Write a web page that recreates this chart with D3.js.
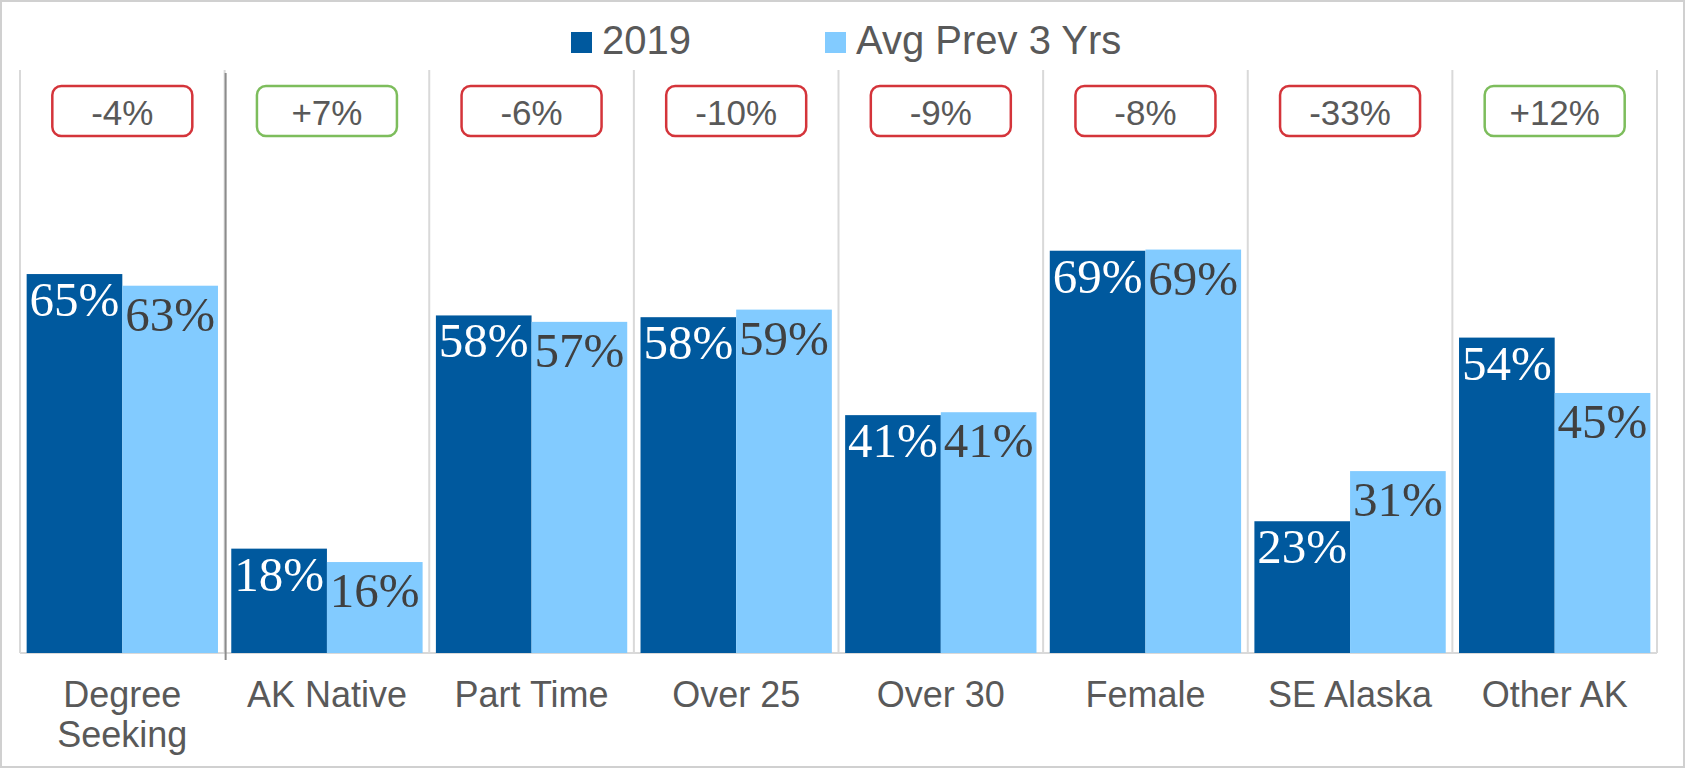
<!DOCTYPE html>
<html>
<head>
<meta charset="utf-8">
<script src="https://cdn.jsdelivr.net/npm/d3@7"></script>
<style>
  html, body { margin: 0; padding: 0; background: #ffffff; }
  svg { display: block; }
</style>
</head>
<body>
<svg id="chart" width="1685" height="768"></svg>
<script>
// ---- Data ----
const categories = ["Degree Seeking", "AK Native", "Part Time", "Over 25", "Over 30", "Female", "SE Alaska", "Other AK"];
const seriesNames = ["2019", "Avg Prev 3 Yrs"];
const values2019 = [65, 17.9, 57.9, 57.6, 40.8, 69.0, 22.6, 54.1];
const valuesAvg = [63, 15.6, 56.8, 58.9, 41.3, 69.2, 31.2, 44.6];
const changeLabels = ["-4%", "+7%", "-6%", "-10%", "-9%", "-8%", "-33%", "+12%"];

// ---- Layout ----
const W = 1685, H = 768;
const plotLeft = 20, plotRight = 1657, plotTop = 70, plotBottom = 653;
const colors = ["#00599E", "#82CBFF"];
const gridColor = "#d9d9d9";
const textGray = "#595959";
const sans = "'Liberation Sans', Arial, sans-serif";
const serif = "'Liberation Serif', 'Times New Roman', serif";

const svg = d3.select("#chart");

// outer border
svg.append("rect")
  .attr("x", 1).attr("y", 1).attr("width", W - 2).attr("height", H - 2)
  .attr("fill", "#fff").attr("stroke", "#d0d0d0").attr("stroke-width", 2);

const x0 = d3.scaleBand()
  .domain(categories)
  .range([plotLeft, plotRight])
  .paddingInner(0.065)
  .paddingOuter(0.0325);

const x1 = d3.scaleBand()
  .domain(seriesNames)
  .range([0, x0.bandwidth()]);

const y = d3.scaleLinear().domain([0, 100]).range([plotBottom, plotTop]);

const step = x0.step();

// vertical gridlines at category boundaries
const boundaries = d3.range(categories.length + 1).map(i => plotLeft + i * step);
svg.append("g").selectAll("line")
  .data(boundaries)
  .join("line")
  .attr("x1", d => d).attr("x2", d => d)
  .attr("y1", y(100)).attr("y2", plotBottom)
  .attr("stroke", gridColor).attr("stroke-width", 2);

// baseline
svg.append("line")
  .attr("x1", plotLeft).attr("x2", plotRight)
  .attr("y1", plotBottom).attr("y2", plotBottom)
  .attr("stroke", gridColor).attr("stroke-width", 2);

// darker separator line after first category
svg.append("line")
  .attr("x1", boundaries[1] + 1).attr("x2", boundaries[1] + 1)
  .attr("y1", y(100) + 3).attr("y2", plotBottom + 7)
  .attr("stroke", "#8c8c8c").attr("stroke-width", 2);

// bars
const rows = categories.map((c, i) => ({
  cat: c,
  vals: [
    { s: seriesNames[0], v: values2019[i], k: 0 },
    { s: seriesNames[1], v: valuesAvg[i], k: 1 }
  ]
}));

const groups = svg.append("g").selectAll("g")
  .data(rows)
  .join("g")
  .attr("transform", d => `translate(${x0(d.cat)},0)`);

groups.selectAll("rect")
  .data(d => d.vals)
  .join("rect")
  .attr("x", d => x1(d.s))
  .attr("width", x1.bandwidth())
  .attr("y", d => y(d.v))
  .attr("height", d => plotBottom - y(d.v))
  .attr("fill", d => colors[d.k]);

groups.selectAll("text.val")
  .data(d => d.vals)
  .join("text")
  .attr("class", "val")
  .attr("x", d => x1(d.s) + x1.bandwidth() / 2)
  .attr("y", d => y(d.v) + (d.k === 0 ? 42 : 45))
  .attr("text-anchor", "middle")
  .attr("font-family", serif)
  .attr("font-size", 49)
  .attr("fill", d => d.k === 0 ? "#ffffff" : "#404040")
  .text(d => Math.round(d.v) + "%");

// change boxes
const boxW = 140, boxH = 50, boxY = 86;
const boxes = svg.append("g").selectAll("g")
  .data(categories.map((c, i) => ({ cat: c, lab: changeLabels[i] })))
  .join("g")
  .attr("transform", d => `translate(${x0(d.cat) + x0.bandwidth() / 2},0)`);

boxes.append("rect")
  .attr("x", -boxW / 2).attr("y", boxY)
  .attr("width", boxW).attr("height", boxH)
  .attr("rx", 9).attr("ry", 9)
  .attr("fill", "#ffffff")
  .attr("stroke", d => d.lab.startsWith("+") ? "#7dbd5c" : "#d4343a")
  .attr("stroke-width", 2.5);

boxes.append("text")
  .attr("x", 0).attr("y", 125)
  .attr("text-anchor", "middle")
  .attr("font-family", sans)
  .attr("font-size", 35)
  .attr("fill", textGray)
  .text(d => d.lab);

// category labels
const catLines = {
  "Degree Seeking": ["Degree", "Seeking"]
};
const catG = svg.append("g").selectAll("text")
  .data(categories)
  .join("text")
  .attr("x", d => x0(d) + x0.bandwidth() / 2)
  .attr("y", 707)
  .attr("text-anchor", "middle")
  .attr("font-family", sans)
  .attr("font-size", 36)
  .attr("fill", textGray);

catG.each(function(d) {
  const lines = catLines[d] || [d];
  const t = d3.select(this);
  lines.forEach((ln, i) => {
    t.append("tspan")
      .attr("x", x0(d) + x0.bandwidth() / 2)
      .attr("dy", i === 0 ? 0 : 40)
      .text(ln);
  });
});

// legend
const legendItems = [
  { name: seriesNames[0], color: colors[0], sx: 571 },
  { name: seriesNames[1], color: colors[1], sx: 825 }
];
const lg = svg.append("g").selectAll("g")
  .data(legendItems)
  .join("g");
lg.append("rect")
  .attr("x", d => d.sx).attr("y", 32)
  .attr("width", 21).attr("height", 21)
  .attr("fill", d => d.color);
lg.append("text")
  .attr("x", d => d.sx + 31).attr("y", 54)
  .attr("font-family", sans)
  .attr("font-size", 40)
  .attr("fill", textGray)
  .text(d => d.name);
</script>
</body>
</html>
